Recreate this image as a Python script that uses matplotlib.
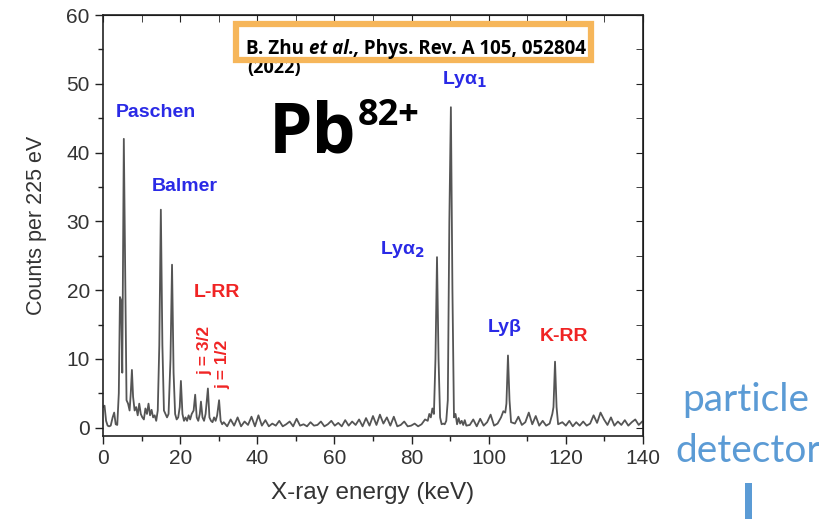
import matplotlib.pyplot as plt
from matplotlib.patches import Rectangle
from matplotlib.ticker import MultipleLocator

plt.rcParams['font.family'] = ['Liberation Sans', 'DejaVu Sans']

# X-ray spectrum of Pb82+ (keV, counts per 225 eV)
ENERGY_KEV = [
    0.0, 0.4, 0.8, 1.2, 1.6, 2.0, 2.5, 2.9, 3.3, 3.7,
    4.1, 4.4, 4.7, 5.0, 5.4, 5.8, 6.1, 6.5, 6.9, 7.2,
    7.5, 7.8, 8.2, 8.6, 9.0, 9.4, 9.8, 10.2, 10.6, 11.0,
    11.4, 11.8, 12.2, 12.6, 13.0, 13.4, 13.8, 14.2, 14.6, 15.0,
    15.4, 15.8, 16.2, 16.6, 17.0, 17.5, 17.9, 18.3, 18.7, 19.1,
    19.5, 19.9, 20.2, 20.6, 21.0, 21.4, 21.8, 22.2, 22.6, 23.0,
    23.5, 23.9, 24.3, 24.7, 25.1, 25.4, 25.8, 26.2, 26.6, 27.2,
    27.6, 28.0, 28.4, 28.8, 29.2, 29.6, 30.1, 30.5, 30.9,
    31.3, 32.2, 33.1, 34.0, 34.9, 35.8, 36.7, 37.6, 38.5, 39.4,
    40.3, 41.2, 42.1, 43.0, 43.9, 44.8, 45.7, 46.6, 47.5, 48.4,
    49.3, 50.2, 51.1, 52.0, 52.9, 53.8, 54.7, 55.6, 56.5, 57.4,
    58.3, 59.2, 60.1, 61.0, 61.9, 62.8, 63.7, 64.6, 65.5, 66.4,
    67.3, 68.2, 69.1, 70.0, 70.9, 71.8, 72.7, 73.6, 74.5, 75.4,
    76.3, 77.2, 78.1, 79.0, 79.9, 80.8, 81.7, 82.6, 83.5,
    84.2, 84.6, 85.0, 85.4, 85.8, 86.2, 86.6, 87.0, 87.4, 87.8,
    88.2, 88.6, 89.0, 89.4, 89.8, 90.2, 90.6, 91.0, 91.4, 91.8,
    92.2, 92.6, 93.0, 93.4, 93.8, 94.2, 95.1, 96.0, 96.9, 97.8,
    98.7, 99.6, 100.5, 101.4, 102.3, 103.2, 103.8, 104.3, 104.6, 105.0,
    105.4, 105.8, 106.8, 107.7, 108.6, 109.5, 110.4, 111.3, 112.2, 113.1,
    114.0, 114.9, 115.8, 116.5, 116.8, 117.2, 117.6, 118.0, 119.1, 120.0,
    120.9, 121.8, 122.7, 123.6, 124.5, 125.4, 126.3, 127.2, 128.1, 129.0,
    129.9, 130.8, 131.7, 132.6, 133.5, 134.4, 135.3, 136.2, 137.1, 138.0,
    138.9, 139.8,
]
COUNTS = [
    3.0, 3.2, 1.0, 0.3, 0.2, 0.3, 1.5, 2.2, 0.5, 0.4,
    5.0, 19.0, 18.5, 8.0, 42.0, 20.0, 4.0, 3.5, 2.5, 5.0,
    8.4, 4.5, 2.5, 3.0, 1.8, 3.5, 2.0, 1.5, 1.2, 2.8,
    2.0, 3.5, 1.8, 2.6, 1.5, 1.8, 1.0, 2.5, 12.0, 31.7,
    12.0, 2.5, 2.0, 1.5, 2.0, 10.0, 23.7, 8.0, 2.0, 1.2,
    1.5, 3.0, 6.8, 2.0, 1.0, 1.5, 1.0, 1.8, 1.2, 2.0,
    2.5, 4.8, 1.5, 1.0, 2.0, 3.8, 1.5, 1.0, 2.0, 5.7,
    1.5, 1.0, 0.8, 1.5, 1.0, 1.8, 4.0, 1.0, 0.5,
    0.8, 0.2, 1.2, 0.3, 1.5, 0.2, 0.9, 0.4, 1.6, 0.2,
    1.8, 0.3, 1.1, 0.2, 0.6, 0.3, 1.0, 0.2, 0.5, 0.9,
    0.2, 1.3, 0.3, 0.5, 0.2, 0.8, 0.3, 0.4, 0.9, 0.2,
    0.5, 1.0, 0.3, 0.7, 0.2, 1.1, 0.3, 0.9, 0.4, 1.2,
    0.2, 1.4, 0.3, 1.7, 0.4, 1.9, 0.6, 1.5, 0.3, 1.6,
    0.2, 0.4, 0.9, 0.2, 0.3, 0.6, 0.2, 0.5, 1.2,
    1.0, 2.0, 1.5, 2.8, 2.0, 10.0, 24.8, 10.0, 1.5, 0.5,
    0.6, 0.5, 1.0, 4.0, 30.0, 46.6, 20.0, 1.5, 2.0, 0.5,
    1.4, 0.6, 1.0, 0.4, 1.1, 0.3, 0.4, 1.2, 0.2, 1.3,
    0.3, 0.8, 1.9, 0.3, 0.6, 1.5, 2.4, 2.2, 3.5, 10.5,
    4.0, 0.8, 0.6, 1.6, 0.4, 0.8, 2.2, 0.5, 1.7, 0.3,
    1.0, 0.3, 0.6, 2.0, 3.0, 9.6, 3.0, 0.5, 0.8, 0.3,
    1.0, 0.2, 0.8, 0.3, 0.9, 0.3, 0.6, 1.8, 0.7, 2.2,
    1.2, 0.4, 1.5, 0.3, 0.9, 0.4, 1.1, 0.3, 0.8, 1.2,
    0.4, 0.9,
]

BLUE = '#2a2ae6'
RED = '#f02424'
INK = '#333333'
SLIDE_BLUE = '#5b9bd5'

fig = plt.figure(figsize=(8.2, 5.19), dpi=100)
ax = fig.add_axes([0.1256, 0.160, 0.6585, 0.811])

ax.plot(ENERGY_KEV, COUNTS, color='#555555', lw=1.3)

ax.set_xlim(0, 140)
ax.set_ylim(-1.2, 60)
ax.xaxis.set_major_locator(MultipleLocator(20))
ax.xaxis.set_minor_locator(MultipleLocator(10))
ax.yaxis.set_major_locator(MultipleLocator(10))
ax.yaxis.set_minor_locator(MultipleLocator(5))
ax.tick_params(which='both', direction='out', colors='#222222', labelcolor=INK,
               labelsize=15, width=1.0)
ax.tick_params(which='major', length=6)
ax.tick_params(which='minor', length=3.5)
for s in ax.spines.values():
    s.set_color('#222222')
    s.set_linewidth(1.2)

# top/right ticks point inward, as in the original
top = ax.secondary_xaxis('top')
top.xaxis.set_major_locator(MultipleLocator(20))
top.xaxis.set_minor_locator(MultipleLocator(10))
top.tick_params(which='both', direction='in', labeltop=False, length=5, colors='#222222')
right = ax.secondary_yaxis('right')
right.yaxis.set_major_locator(MultipleLocator(10))
right.yaxis.set_minor_locator(MultipleLocator(5))
right.tick_params(which='both', direction='in', labelright=False, length=5, colors='#222222')

ax.set_xlabel('X-ray energy (keV)', fontsize=17.5, color=INK, labelpad=10)
ax.set_ylabel('Counts per 225 eV', fontsize=15.5, color=INK, labelpad=14)

# line labels
lab = dict(ha='center', va='center', fontsize=14, fontweight='bold')
ax.text(13.7, 45.9, 'Paschen', color=BLUE, **lab)
ax.text(21.3, 35.0, 'Balmer', color=BLUE, **lab)
ax.text(29.6, 19.6, 'L-RR', color=RED, **lab)
jlab = dict(rotation=90, ha='center', va='center', fontsize=12.5, fontweight='bold')
ax.text(26.4, 11.3, 'j = 3/2', color=RED, **jlab)
ax.text(31.1, 9.2, 'j = 1/2', color=RED, **jlab)
ax.text(93.9, 50.6, r'Lyα$_\mathbf{1}$', color=BLUE, **lab)
ax.text(77.8, 25.9, r'Lyα$_\mathbf{2}$', color=BLUE, **lab)
ax.text(104.2, 14.5, 'Lyβ', color=BLUE, **lab)
ax.text(119.5, 13.2, 'K-RR', color=RED, **lab)

renderer = fig.canvas.get_renderer()

# ion label
pb = fig.text(0.328, 0.707, 'Pb', fontsize=50, fontweight='bold', family='Open Sans',
              ha='left', va='baseline', zorder=5)
pb_right = pb.get_window_extent(renderer).x1 / fig.bbox.width
fig.text(pb_right + 0.002, 0.760, '82+', fontsize=26, fontweight='bold',
         family='Open Sans', ha='left', va='baseline', zorder=5)

# reference box
fig.text(0.301, 0.859, '(2022)', fontsize=13, fontweight='bold', family='Open Sans',
         ha='left', va='baseline', zorder=5)
fig.patches.append(Rectangle((0.288, 0.884), 0.433, 0.069, transform=fig.transFigure,
                             facecolor='white', edgecolor='#f6b65a', lw=4.5, zorder=6))
x0, yb = 0.300, 0.896
for piece, style in [('B. Zhu ', 'normal'), ('et al.,', 'italic'),
                     (' Phys. Rev. A 105, 052804', 'normal')]:
    t = fig.text(x0, yb, piece, fontsize=13.5, fontweight='bold', style=style,
                 family='Open Sans', ha='left', va='baseline', zorder=7)
    x0 = t.get_window_extent(renderer).x1 / fig.bbox.width

# slide annotation on the right
fig.text(0.910, 0.208, 'particle', fontsize=28, color=SLIDE_BLUE, family='Lato',
         ha='center', va='baseline')
fig.text(0.912, 0.110, 'detector', fontsize=28, color=SLIDE_BLUE, family='Lato',
         ha='center', va='baseline')
fig.patches.append(Rectangle((0.908, 0.0), 0.009, 0.069, transform=fig.transFigure,
                             facecolor=SLIDE_BLUE, edgecolor='none'))

fig.savefig('out.png', dpi=100)
